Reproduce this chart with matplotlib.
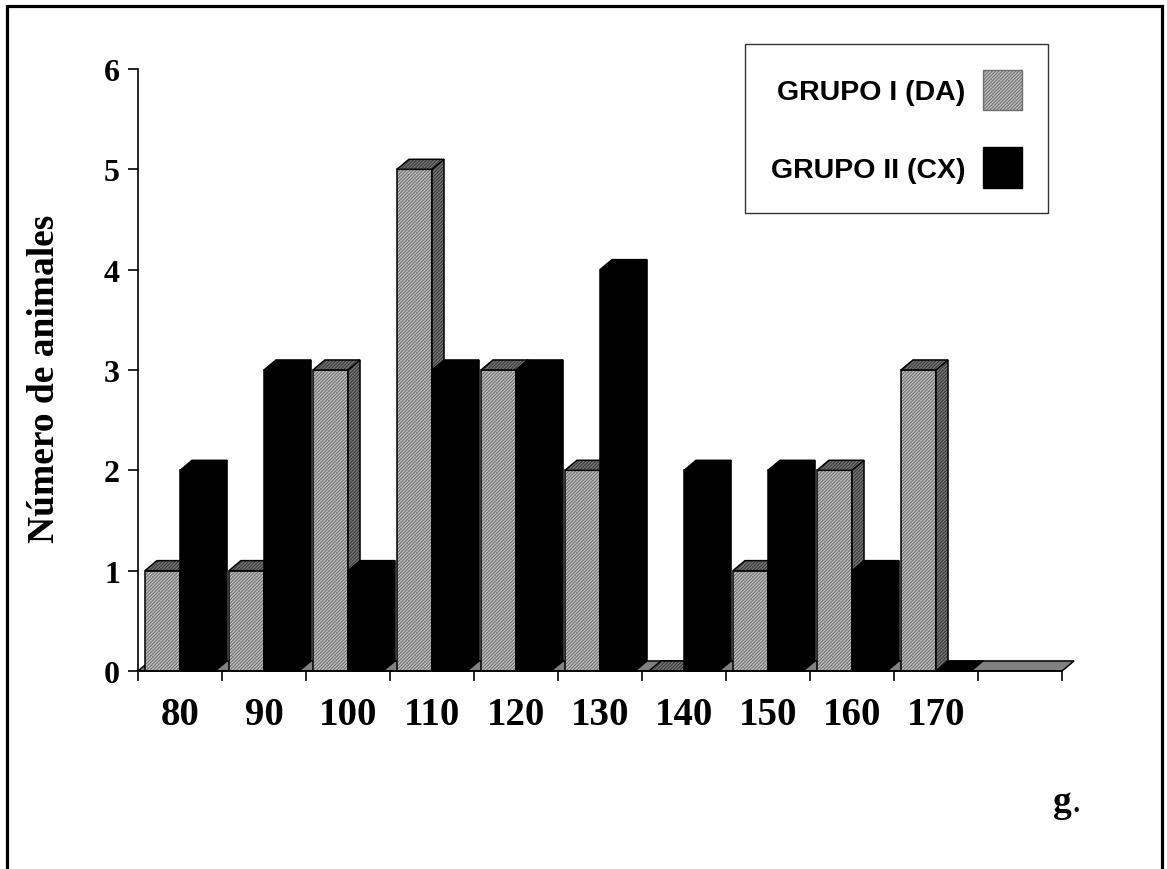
import numpy as np
import matplotlib
matplotlib.use("Agg")
import matplotlib.pyplot as plt
from matplotlib.patches import Polygon, Rectangle

# data (last slot is empty in the original)
categories = ["80", "90", "100", "110", "120", "130", "140", "150", "160", "170", ""]
grupo_1 = [1, 1, 3, 5, 3, 2, 0, 1, 2, 3, np.nan]
grupo_2 = [2, 3, 1, 3, 3, 4, 2, 2, 1, 0, np.nan]
y_ticks = [0, 1, 2, 3, 4, 5, 6]

W, H = 1167, 870
DX, DY = 0.143, 0.10       # fake depth (x in slots, y in values)
GAP, BW = 0.083, 0.417

serif = "Liberation Serif"
sans = "Liberation Sans"
plt.rcParams["hatch.linewidth"] = 0.8

fig = plt.figure(figsize=(W / 100, H / 100), dpi=100)
ax = fig.add_axes([138 / W, (H - 672) / H, (1062 - 138) / W, (672 - 70) / H])
ax.set_xlim(0, len(categories))
ax.set_ylim(0, 6)

HATCH = "//////////"


def face(pts, fc, hc, hatch=None):
    ax.add_patch(Polygon(pts, closed=True, facecolor=fc, edgecolor=hc if hatch else fc,
                         hatch=hatch, lw=0, clip_on=False, zorder=3))
    ax.add_patch(Polygon(pts, closed=True, fill=False, edgecolor="black", lw=1.1,
                         clip_on=False, zorder=3))


def bar3d(x0, h, front, front_h, dark, dark_h, hatch):
    x1 = x0 + BW
    if h > 0:
        face([(x0, 0), (x1, 0), (x1, h), (x0, h)], front, front_h, hatch)
        face([(x1, 0), (x1 + DX, DY), (x1 + DX, h + DY), (x1, h)], dark, dark_h, hatch)
    face([(x0, h), (x1, h), (x1 + DX, h + DY), (x0 + DX, h + DY)], dark, dark_h, hatch)


# floor
n = len(categories)
face([(0, 0), (n, 0), (n + DX, DY), (DX, DY)], "#808080", "#808080")

for i in range(n):
    if not np.isnan(grupo_1[i]):
        bar3d(i + GAP, grupo_1[i], "#c4c4c4", "#6e6e6e", "#7a7a7a", "#383838", HATCH)
    if not np.isnan(grupo_2[i]):
        bar3d(i + GAP + BW, grupo_2[i], "black", "black", "black", "black", None)

for s in ["top", "right"]:
    ax.spines[s].set_visible(False)
ax.spines["left"].set_linewidth(1.2)
ax.spines["bottom"].set_linewidth(1.2)
ax.spines["bottom"].set_zorder(4)

ax.set_yticks(y_ticks)
ax.set_yticklabels([str(v) for v in y_ticks], fontfamily=serif, fontweight="bold", fontsize=23)
ax.tick_params(axis="y", direction="out", length=7, width=1.2, pad=6)

ax.set_xticks(range(n + 1))
ax.set_xticklabels([])
ax.set_xticks(np.arange(n) + 0.5, minor=True)
ax.set_xticklabels(categories, minor=True, fontfamily=serif, fontweight="bold", fontsize=28)
ax.tick_params(axis="x", which="major", direction="out", length=7, width=1.2)
ax.tick_params(axis="x", which="minor", length=0, pad=18)

fig.text(45 / W, 1 - 379 / H, "Número de animales", rotation=90, ha="center", va="center",
         fontfamily=serif, fontweight="bold", fontsize=27)
fig.text(1053 / W, 1 - 812 / H, "g", ha="left", va="baseline",
         fontfamily=serif, fontweight="bold", fontsize=27)
fig.text(1072 / W, 1 - 812 / H, ".", ha="left", va="baseline",
         fontfamily=serif, fontsize=27)

h1 = Rectangle((0, 0), 1, 1, facecolor="#c4c4c4", edgecolor="#6e6e6e", hatch=HATCH, lw=1)
h2 = Rectangle((0, 0), 1, 1, facecolor="black", edgecolor="black", lw=1)
leg = ax.legend([h1, h2], ["GRUPO I (DA)", "GRUPO II (CX)"], loc="upper right",
                bbox_to_anchor=(1048 / W, 1 - 45 / H), bbox_transform=fig.transFigure,
                markerfirst=False, fancybox=False, frameon=True, borderaxespad=0,
                borderpad=0.9, handlelength=1.4, handleheight=1.81, handletextpad=0.6,
                labelspacing=1.3, prop={"family": sans, "weight": "bold", "size": 20.5})
leg.get_frame().set_edgecolor("black")
leg.get_frame().set_linewidth(1.0)
for p in leg.get_patches():
    p.set_edgecolor("black") if p.get_facecolor()[0] == 0 else None

fig.patches.append(Rectangle((7 / W, -0.1), (1161.5 - 7) / W, 1.1 - 7 / H, fill=False,
                             edgecolor="black", lw=2.3, transform=fig.transFigure))

fig.savefig("out.png", dpi=100)
